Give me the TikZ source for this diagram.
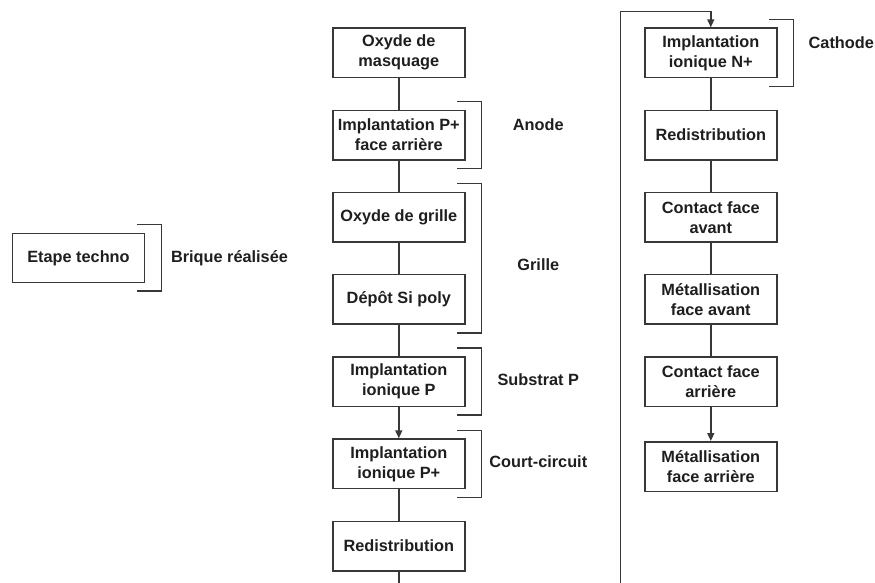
\documentclass[tikz,border=0pt]{standalone}
\usepackage{fontspec}
\setmainfont{Liberation Sans}
\usetikzlibrary{arrows.meta,calc}
\definecolor{ln}{HTML}{383838}
\definecolor{tx}{HTML}{1E1E1E}
\begin{document}
\begin{tikzpicture}[x=1pt,y=-1pt,
  every node/.style={font=\fontsize{16.3}{20}\selectfont\bfseries, text=tx},
  stepbox/.style={draw=ln, line width=1.5pt, minimum width=132pt, minimum height=49.5pt, align=center, inner sep=2pt},
  lbl/.style={text height=11.7pt, text depth=0pt, inner sep=0pt},
  conn/.style={draw=ln, line width=1.5pt},
  arr/.style={conn, -{Triangle[length=8pt,width=7pt]}},
  br/.style={draw=ln, line width=1.5pt}
]
\useasboundingbox (0,0) rectangle (875,582);
% legend
\node[stepbox, minimum width=131.6pt, minimum height=49pt] (lg) at (78.5,257.8) {Etape techno};
\draw[br] ($(lg.north east)+(-8.3,-8.3)$) -- ++(24.6,0) |- ($(lg.south east)+(-8.3,7.7)$);
\node[lbl] (lgl) at (229.5,256.7) {Brique réalisée};
% middle column
\node[stepbox] (b1) at (398.8,52.8) {Oxyde de\\masquage};
\node[stepbox] (b2) at (398.8,135) {Implantation P+\\face arrière};
\node[stepbox] (b3) at (398.8,217.2) {Oxyde de grille};
\node[stepbox] (b4) at (398.8,299.4) {Dépôt Si poly};
\node[stepbox] (b5) at (398.8,381.6) {Implantation\\ionique P};
\node[stepbox] (b6) at (398.8,463.8) {Implantation\\ionique P+};
\node[stepbox] (b7) at (398.8,546) {Redistribution};
\draw[conn] (b1) -- (b2);
\draw[conn] (b2) -- (b3);
\draw[conn] (b3) -- (b4);
\draw[conn] (b4) -- (b5);
\draw[arr] (b5) -- (b6);
\draw[conn] (b6) -- (b7);
\coordinate (bend) at (398.8,583);
\draw[conn] (b7) -- (bend);
% brackets middle
\draw[br] ($(b2.north east)+(-8.3,-8)$) -- ++(24.3,0) |- ($(b2.south east)+(-8.3,8)$);
\draw[br] ($(b3.north east)+(-8.3,-8)$) -- ++(24.3,0) |- ($(b4.south east)+(-8.3,8)$);
\draw[br] ($(b5.north east)+(-8.3,-8)$) -- ++(24.3,0) |- ($(b5.south east)+(-8.3,8)$);
\draw[br] ($(b6.north east)+(-8.3,-8)$) -- ++(24.3,0) |- ($(b6.south east)+(-8.3,8)$);
\node[lbl] (la) at (538.3,125) {Anode};
\node[lbl] (lgr) at (538.3,265) {Grille};
\node[lbl] (ls) at (538.3,379.3) {Substrat P};
\node[lbl] (lc) at (538.3,461.7) {Court-circuit};
% right column
\node[stepbox] (r1) at (710.8,52.8) {Implantation\\ionique N+};
\node[stepbox] (r2) at (710.8,135) {Redistribution};
\node[stepbox] (r3) at (710.8,217.2) {Contact face\\avant};
\node[stepbox] (r4) at (710.8,299.4) {Métallisation\\face avant};
\node[stepbox] (r5) at (710.8,381.6) {Contact face\\arrière};
\node[stepbox] (r6) at (710.8,466.5) {Métallisation\\face arrière};
\draw[conn] (r1) -- (r2);
\draw[conn] (r2) -- (r3);
\draw[conn] (r3) -- (r4);
\draw[conn] (r4) -- (r5);
\draw[arr] (r5) -- (r6);
\coordinate (lstart) at (620.5,583);
\coordinate (ltop) at (620.5,11.7);
\draw[arr] (lstart) -- (ltop) -| (r1.north);
\draw[br] ($(r1.north east)+(-8.3,-8)$) -- ++(24.3,0) |- ($(r1.south east)+(-8.3,8)$);
\node[lbl] (lca) at (841.3,42.3) {Cathode};
\end{tikzpicture}
\end{document}
